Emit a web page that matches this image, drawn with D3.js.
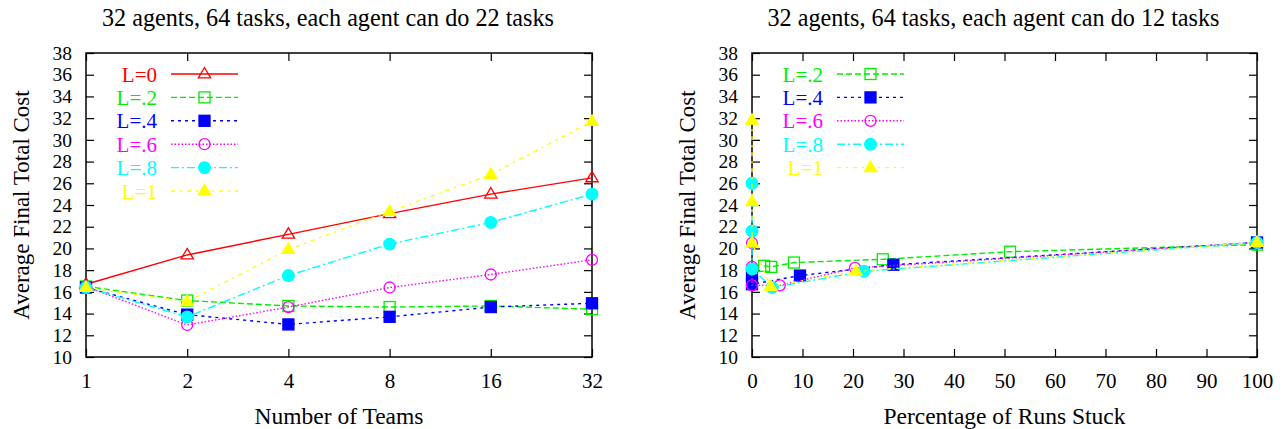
<!DOCTYPE html>
<html><head><meta charset="utf-8">
<script src="https://cdn.jsdelivr.net/npm/d3@7"></script>
<style>body{margin:0;background:#fff}svg{display:block}</style>
</head><body>
<svg id="chart" width="1282" height="429"></svg>
<script>
// ---------- DATA ----------
const leftTitle = "32 agents, 64 tasks, each agent can do 22 tasks";
const rightTitle = "32 agents, 64 tasks, each agent can do 12 tasks";
const yLabel = "Average Final Total Cost";
const leftXLabel = "Number of Teams";
const rightXLabel = "Percentage of Runs Stuck";
const yTicks = [10,12,14,16,18,20,22,24,26,28,30,32,34,36,38];
const teams = [1,2,4,8,16,32];
const rightXTicks = [0,10,20,30,40,50,60,70,80,90,100];

const seriesNames = ["L=0","L=.2","L=.4","L=.6","L=.8","L=1"];
const left_L0  = [16.7,19.4,21.3,23.2,25.0,26.5];
const left_L02 = [16.5,15.2,14.7,14.6,14.7,14.4];
const left_L04 = [16.4,13.9,13.0,13.7,14.6,14.95];
const left_L06 = [16.5,12.95,14.6,16.4,17.6,18.95];
const left_L08 = [16.4,13.7,17.5,20.4,22.4,25.0];
const left_L1  = [16.4,15.1,19.9,23.4,26.8,31.7];

// right panel: [percentage stuck, cost]
const right_L02 = [[2.4,18.4],[3.8,18.3],[8.3,18.7],[25.9,19.0],[51.1,19.7],[100,20.35]];
const right_L04 = [[0,17.6],[0,16.7],[9.5,17.5],[28,18.5],[100,20.55]];
const right_L06 = [[0,20.5],[0,18.3],[0,16.6],[5.5,16.6],[20.4,18.2],[100,20.55]];
const right_L08 = [[0,26.0],[0,21.6],[0,18.1],[4,16.4],[22.2,17.9],[100,20.55]];
const right_L1  = [[0,31.8],[0,24.3],[0,20.5],[3.7,16.5],[20.6,17.9],[100,20.55]];

// ---------- STYLES ----------
const FONT = "'Liberation Serif', 'Times New Roman', Times, 'DejaVu Serif', serif";
const styles = {
  "L=0":  {color:"#ff0000", dash:null,        marker:"triangle", fill:false},
  "L=.2": {color:"#00ee00", dash:"6,3",       marker:"square",   fill:false},
  "L=.4": {color:"#0000ff", dash:"3,4",       marker:"square",   fill:true},
  "L=.6": {color:"#ff00ff", dash:"1.5,2",     marker:"circle",   fill:false},
  "L=.8": {color:"#00ffff", dash:"8,3,2,3",   marker:"circle",   fill:true},
  "L=1":  {color:"#ffff00", dash:"4,5,2,5",   marker:"triangle", fill:true}
};

const svg = d3.select("#chart");
const plotTop = 53, plotBottom = 357;
const y = d3.scaleLinear().domain([10,38]).range([plotBottom, plotTop]);

function marker(g, type, fill, color, cx, cy) {
  const sw = 1.3;
  if (type === "triangle") {
    const s = 6.5;
    g.append("path").attr("d", `M${cx},${cy-s}L${cx+s*0.95},${cy+s*0.6}L${cx-s*0.95},${cy+s*0.6}Z`)
      .attr("fill", fill ? color : "none").attr("stroke", color).attr("stroke-width", sw);
  } else if (type === "square") {
    const s = 5.5;
    g.append("rect").attr("x", cx-s).attr("y", cy-s).attr("width", 2*s).attr("height", 2*s)
      .attr("fill", fill ? color : "none").attr("stroke", color).attr("stroke-width", sw);
  } else {
    g.append("circle").attr("cx", cx).attr("cy", cy).attr("r", fill ? 5.8 : 5.5)
      .attr("fill", fill ? color : "none").attr("stroke", color).attr("stroke-width", sw);
  }
}

function panel(opts) {
  const {x, xTicks, tickFmt, series, title, xLabel, legend} = opts;
  const [x0, x1] = x.range();
  const g = svg.append("g");
  const tl = 8;
  g.append("text").attr("x", (x0+x1)/2 - 11).attr("y", 26).attr("text-anchor","middle")
    .style("font-family", FONT).style("font-size", "24.2px").text(title);
  const yAxisL = d3.axisLeft(y).tickValues(yTicks).tickSize(-tl).tickPadding(14);
  const ya = g.append("g").attr("transform", `translate(${x0},0)`).call(yAxisL);
  ya.select(".domain").remove();
  ya.selectAll("text").style("font-size", "19.5px").style("font-family", FONT).attr("fill","#000");
  const yAxisR = d3.axisRight(y).tickValues(yTicks).tickSize(-tl).tickFormat("");
  const yr = g.append("g").attr("transform", `translate(${x1},0)`).call(yAxisR);
  yr.select(".domain").remove();
  const xAxisB = d3.axisBottom(x).tickValues(xTicks).tickSize(-tl).tickPadding(16).tickFormat(tickFmt);
  const xb = g.append("g").attr("transform", `translate(0,${plotBottom})`).call(xAxisB);
  xb.select(".domain").remove();
  xb.selectAll("text").style("font-size", "21px").style("font-family", FONT).attr("fill","#000");
  const xAxisT = d3.axisTop(x).tickValues(xTicks).tickSize(-tl).tickFormat("");
  const xt = g.append("g").attr("transform", `translate(0,${plotTop})`).call(xAxisT);
  xt.select(".domain").remove();
  g.selectAll(".tick line").attr("stroke","#000").attr("stroke-width",1.2);
  g.append("rect").attr("x", x0).attr("y", plotTop).attr("width", x1-x0).attr("height", plotBottom-plotTop)
    .attr("fill","none").attr("stroke","#000").attr("stroke-width",1.5);
  g.append("text").attr("x", (x0+x1)/2).attr("y", 424).attr("text-anchor","middle")
    .style("font-family", FONT).style("font-size", "23.5px").text(xLabel);
  g.append("text").attr("transform", `translate(${x0-57},${(plotTop+plotBottom)/2}) rotate(-90)`)
    .attr("text-anchor","middle").style("font-family", FONT).style("font-size", "23px").text(yLabel);
  const line = d3.line().x(d => x(d[0])).y(d => y(d[1]));
  series.forEach(s => {
    const st = styles[s.name];
    g.append("path").attr("d", line(s.data)).attr("fill","none").attr("stroke", st.color)
      .attr("stroke-width", 1.4).attr("stroke-dasharray", st.dash);
    s.data.forEach(d => marker(g, st.marker, st.fill, st.color, x(d[0]), y(d[1])));
  });
  series.forEach((s, i) => {
    const st = styles[s.name];
    const ly = 74 + i*23.4;
    g.append("text").attr("x", legend.textX).attr("y", ly+7.5).attr("text-anchor","end")
      .style("font-family", FONT).style("font-size", "21px").attr("fill", st.color).text(s.name);
    g.append("line").attr("x1", legend.lineX).attr("x2", legend.lineX+67).attr("y1", ly).attr("y2", ly)
      .attr("stroke", st.color).attr("stroke-width",1.4).attr("stroke-dasharray", st.dash);
    marker(g, st.marker, st.fill, st.color, legend.lineX+33.5, ly);
  });
}

const xl = d3.scaleLog().base(2).domain([1,32]).range([86, 592]);
panel({
  x: xl, xTicks: teams, tickFmt: d3.format("d"), title: leftTitle, xLabel: leftXLabel,
  legend: {textX: 157, lineX: 171},
  series: [
    {name:"L=0",  data: teams.map((t,i)=>[t,left_L0[i]])},
    {name:"L=.2", data: teams.map((t,i)=>[t,left_L02[i]])},
    {name:"L=.4", data: teams.map((t,i)=>[t,left_L04[i]])},
    {name:"L=.6", data: teams.map((t,i)=>[t,left_L06[i]])},
    {name:"L=.8", data: teams.map((t,i)=>[t,left_L08[i]])},
    {name:"L=1",  data: teams.map((t,i)=>[t,left_L1[i]])}
  ]
});

const xr = d3.scaleLinear().domain([0,100]).range([752, 1257]);
panel({
  x: xr, xTicks: rightXTicks, tickFmt: d3.format("d"), title: rightTitle, xLabel: rightXLabel,
  legend: {textX: 823, lineX: 837},
  series: [
    {name:"L=.2", data: right_L02},
    {name:"L=.4", data: right_L04},
    {name:"L=.6", data: right_L06},
    {name:"L=.8", data: right_L08},
    {name:"L=1",  data: right_L1}
  ]
});
</script>
</body></html>
